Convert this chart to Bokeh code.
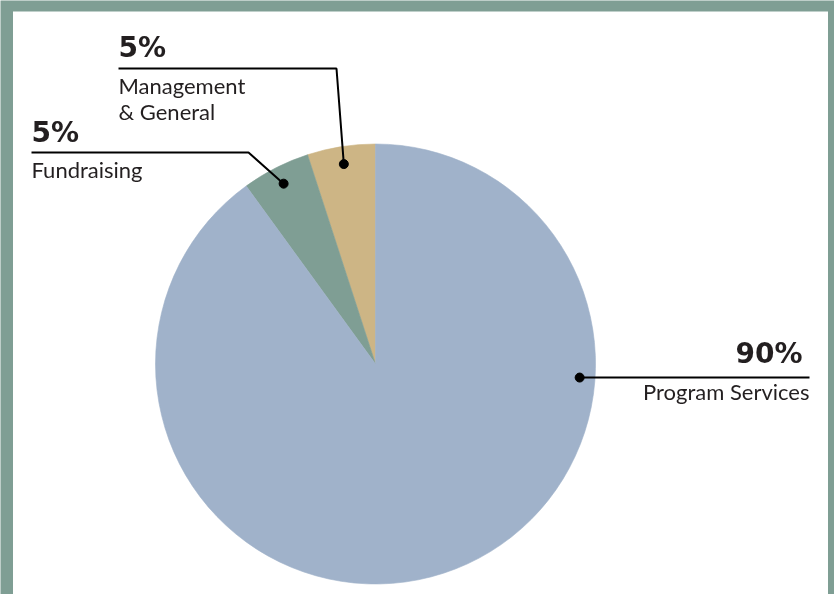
import numpy as np
from bokeh.plotting import figure
from bokeh.models import Range1d
from bokeh.embed import file_html
from bokeh.resources import INLINE
from bokeh.core.properties import value

# ---- data ----
categories = ["Management & General", "Fundraising", "Program Services"]
percents = [5, 5, 90]
pct_labels = ["5%", "5%", "90%"]
name_lines = [["Management", "& General"], ["Fundraising"], ["Program Services"]]
colors = ["#cdb585", "#7f9e94", "#a0b2ca"]

# ---- layout (page pixel coordinates) ----
W, H = 834, 594
BORDER = "#7f9e94"
TXT = "#231f20"
FONT = "Lato"
PFONT = "DejaVu Sans"
PCT_SHIFT = 10   # renderer baseline correction (px)
NAME_SHIFT = 9

def Y(py):
    return H - py

cx, cy, R = 375, Y(363.5), 220

p = figure(width=W, height=H, x_range=Range1d(0, W), y_range=Range1d(0, H),
           output_backend="svg", toolbar_location=None, min_border=0,
           x_axis_type=None, y_axis_type=None, outline_line_color=None,
           background_fill_color=BORDER, border_fill_color=BORDER)
p.grid.visible = False
p.styles = {"position": "fixed", "left": "0px", "top": "0px"}

# white panel
p.quad(left=[12.5], right=[827.5], bottom=[-5], top=[Y(11)], fill_color="white", line_color=None)

# pie: counter-clockwise from 12 o'clock
fr = np.array(percents, dtype=float) / sum(percents)
start = np.pi / 2 + 2 * np.pi * np.concatenate([[0], np.cumsum(fr)[:-1]])
end = start + 2 * np.pi * fr
p.wedge(x=cx, y=cy, radius=R, start_angle=list(start), end_angle=list(end),
        fill_color=colors, line_color=colors, line_width=0.6)

# leader dots: angle (deg) and radius fraction
mid = np.degrees((start + end) / 2)
dot_ang = [mid[0], mid[1], -3.8]
dot_rf = [0.92, 0.92, 0.93]
dx = [cx + rf * R * np.cos(np.radians(a)) for a, rf in zip(dot_ang, dot_rf)]
dy = [cy + rf * R * np.sin(np.radians(a)) for a, rf in zip(dot_ang, dot_rf)]

# leader lines
p.line(x=[118, 336, dx[0]], y=[Y(68), Y(68), dy[0]], line_color="black", line_width=2)
p.line(x=[31, 248, dx[1]], y=[Y(152), Y(152), dy[1]], line_color="black", line_width=2)
p.line(x=[dx[2], 809], y=[dy[2], dy[2]], line_color="black", line_width=2)
p.scatter(x=dx, y=dy, size=9, color="black")

# labels
pct_pos = [(118, Y(57), "left"), (31, Y(142), "left"), (802, Y(363), "right")]
name_pos = [[(118, Y(94)), (118, Y(120))], [(31, Y(178))], [(809, Y(400))]]
for i in range(3):
    x0, y0, al = pct_pos[i]
    p.text(x=[x0], y=[y0 + PCT_SHIFT], text=[pct_labels[i]], text_font=value(PFONT), text_font_style="bold",
           text_font_size="28px", text_color=TXT, text_align=al, text_baseline="alphabetic")
    for (xx, yy), s in zip(name_pos[i], name_lines[i]):
        p.text(x=[xx], y=[yy + NAME_SHIFT], text=[s], text_font=value(FONT), text_font_size="22px",
               text_color=TXT, text_align=al, text_baseline="alphabetic")

open("out.html", "w").write(file_html(p, INLINE))
